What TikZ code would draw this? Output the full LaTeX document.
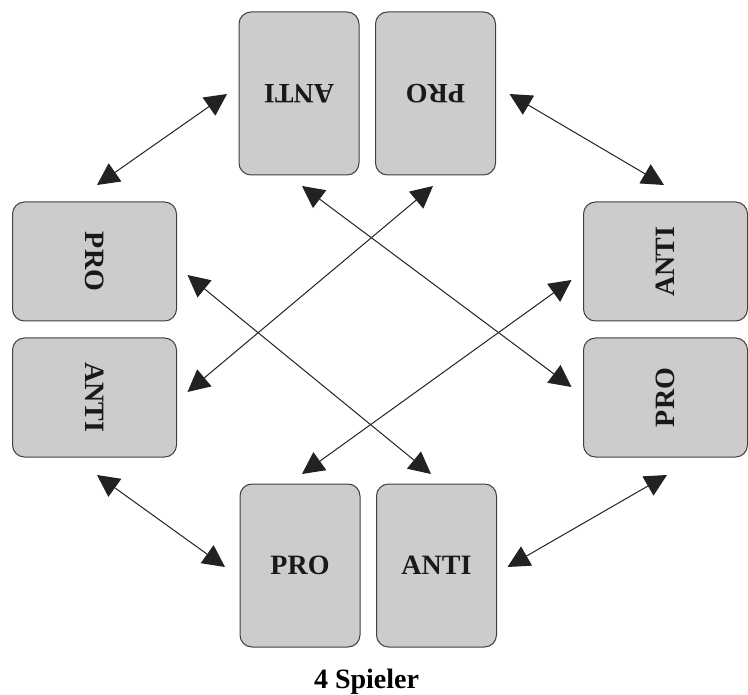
\documentclass[tikz,border=0pt]{standalone}
\usepackage{fontspec}
\setmainfont{Liberation Serif}
\usepackage{graphicx}
\usetikzlibrary{arrows.meta}
\definecolor{cardfill}{HTML}{CCCCCC}
\definecolor{carddraw}{HTML}{404040}
\definecolor{linecol}{HTML}{222222}
\begin{document}
\begin{tikzpicture}[x=1pt,y=-1pt,
  card/.style={draw=carddraw, fill=cardfill, line width=1pt, rounded corners=12pt,
    inner sep=0pt, outer sep=0pt, font=\fontsize{28}{31}\selectfont\bfseries, text=black!90},
  vcard/.style={card, minimum width=120pt, minimum height=163pt},
  hcard/.style={card, minimum width=164pt, minimum height=119pt},
  dbl/.style={draw=linecol, line width=1pt, {Triangle[length=22pt,width=22pt]}-{Triangle[length=22pt,width=22pt]}},
  caption/.style={font=\fontsize{28}{31}\selectfont\bfseries, anchor=base, inner sep=0pt}]
\useasboundingbox (0,0) rectangle (748,695);
% cards
\node[vcard] (ta) at (299,93.5) {\rotatebox{180}{ANTI}};
\node[vcard] (tp) at (435.5,93.5) {\rotatebox{180}{PRO}};
\node[hcard] (lp) at (94.5,261.5) {\rotatebox{-90}{PRO}};
\node[hcard] (la) at (94.5,397.5) {\rotatebox{-90}{ANTI}};
\node[hcard] (ra) at (665.5,261.5) {\rotatebox{90}{ANTI}};
\node[hcard] (rp) at (665.5,397.5) {\rotatebox{90}{PRO}};
\node[vcard] (bp) at (300,565.5) {PRO};
\node[vcard] (ba) at (436.5,565.5) {ANTI};
\node[caption] (cap) at (366.5,688.5) {4 Spieler};
% neighbour arrows
\draw[dbl] ([shift={(2.5,-17)}]lp.north) -- ([shift={(-12,0.5)}]ta.west);
\draw[dbl] ([shift={(14,0.5)}]tp.east) -- ([shift={(-1.5,-17)}]ra.north);
\draw[dbl] ([shift={(2.5,18)}]la.south) -- ([shift={(-15,1.5)}]bp.west);
\draw[dbl] ([shift={(1.5,18)}]rp.south) -- ([shift={(11,1.5)}]ba.east);
% crossing arrows
\draw[dbl] ([shift={(3,11)}]ta.south) -- ([shift={(-12,-10.5)}]rp.west);
\draw[dbl] ([shift={(-2.5,11)}]tp.south) -- ([shift={(11,-5.5)}]la.east);
\draw[dbl] ([shift={(11,13.5)}]lp.east) -- ([shift={(-5.5,-10)}]ba.north);
\draw[dbl] ([shift={(-12,18.5)}]ra.west) -- ([shift={(2,-10)}]bp.north);
\end{tikzpicture}
\end{document}
